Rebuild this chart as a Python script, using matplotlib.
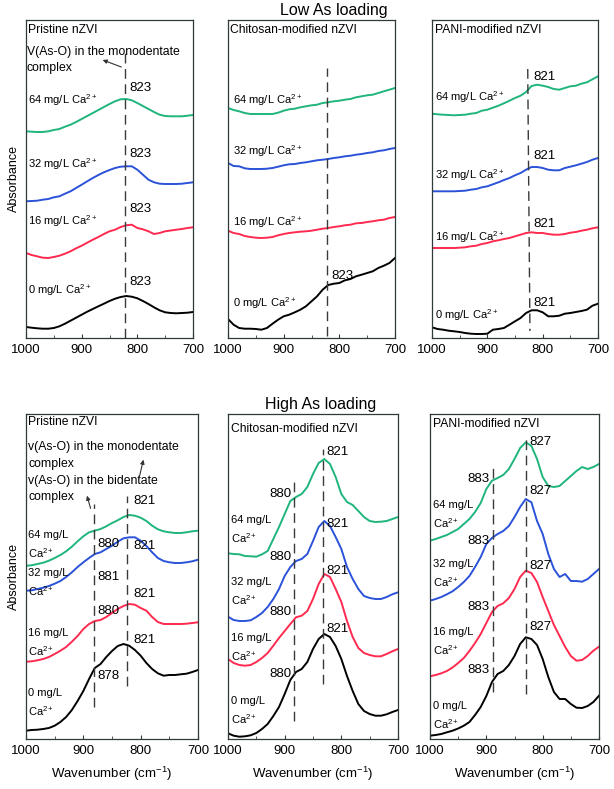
"""
FTIR spectra of As-loaded nZVI samples at different Ca2+ concentrations.
"""
import matplotlib
matplotlib.use('Agg')
import matplotlib.pyplot as plt
from matplotlib.ticker import MultipleLocator

plt.rcParams['font.family'] = ['Liberation Sans', 'DejaVu Sans']
plt.rcParams['mathtext.fontset'] = 'custom'
plt.rcParams['mathtext.rm'] = 'Liberation Sans'
plt.rcParams['mathtext.it'] = 'Liberation Sans:italic'

# wavenumber grid (cm-1)
wn = [1000, 990, 980, 970, 960, 950, 940, 930, 920, 910, 900, 890, 880, 870, 860, 850,
      840, 830, 820, 810, 800, 790, 780, 770, 760, 750, 740, 730, 720, 710, 700]

ca_levels = ['0', '16', '32', '64']

# ---- low As loading (absorbance, arbitrary offset units) ----
low_pristine_0 = [11, 10.3, 9.7, 9.3, 9.3, 10, 11.7, 14.3, 17.3, 20.3, 23.3, 26.3, 29, 31.7, 34.3, 37,
                  39.3, 41, 42, 41.3, 39.7, 37, 34, 30.7, 27.7, 25.7, 25, 24.7, 25, 25.3, 26]
low_pristine_16 = [85, 83, 81.7, 80.3, 80, 81, 82.3, 84.3, 86.7, 89.7, 92.3, 95.3, 98.3, 101, 104, 106.7,
                   108.3, 111, 112.7, 113.3, 110, 108.7, 106.7, 104, 105, 106.7, 107.5, 108.3, 109, 110, 110.7]
low_pristine_32 = [136.7, 137, 137.3, 138.3, 139, 140.7, 141.7, 144.3, 146.7, 150, 153.3, 156.7, 160, 163, 165.7, 168,
                   170, 171.3, 171.7, 171.7, 168.3, 163.3, 158.3, 155.7, 154.3, 154, 154, 154, 154.3, 155, 155.7]
low_pristine_64 = [206.7, 206.3, 206, 206, 206.7, 208, 209, 211.3, 213.3, 216, 219, 222, 225, 228, 231, 234,
                   236.7, 238.7, 239, 237.7, 235, 232, 229, 226, 223.3, 222, 221.7, 221.7, 221.7, 222.3, 223]

low_chitosan_0 = [19, 13.3, 10, 9.3, 9.3, 9, 8.3, 10, 14.3, 18.3, 21.7, 23.3, 25.7, 28.3, 31.7, 36.7,
                  41.7, 48.3, 53, 54.3, 55, 57.7, 59, 61.7, 63.3, 65, 66.7, 70, 72.3, 75, 80]
low_chitosan_16 = [107.3, 105, 104, 102, 101, 100.3, 100, 100.3, 101, 102.7, 104, 105, 105.7, 106.3, 106.7, 107.3,
                   108.3, 109.3, 110, 111, 111.7, 112.7, 113.3, 114.7, 115, 116, 116.7, 117.7, 118.3, 120, 121]
low_chitosan_32 = [175, 172, 171.7, 169.7, 169, 169, 169, 169.3, 170, 171.3, 172.7, 173.7, 174, 175, 175.7, 176.7,
                   177.7, 178.3, 179, 180, 180.7, 181.7, 182.3, 183.3, 184, 185, 185.7, 187, 187.7, 189, 190]
low_chitosan_64 = [230, 228, 226.7, 225, 224, 224, 224, 224, 224, 225.3, 227.3, 228.7, 229.3, 230.7, 231.7, 232.7,
                   233.3, 235, 235.7, 236.7, 237.3, 238.3, 239, 240.7, 241.7, 242.7, 243.3, 245, 246.7, 248.3, 250]

low_pani_0 = [10.7, 9, 8.3, 7.3, 6.7, 6, 5, 4.3, 4, 4, 4.3, 8.3, 9, 10, 13.3, 16.7,
              20, 25, 27.7, 27.7, 25.7, 21.7, 21.7, 22.3, 24.3, 25, 26, 27, 28.3, 32.3, 34.3]
low_pani_16 = [90, 90, 90, 90, 90, 90.3, 90.7, 91.7, 92.3, 94, 95, 96.7, 97.7, 99, 100, 101.7,
               103.3, 105, 105.7, 105, 105, 104, 103.3, 103.3, 104, 105.3, 106, 107.3, 108.3, 109.7, 110.7]
low_pani_32 = [146.7, 146.7, 146.7, 146.7, 146.7, 147, 147.3, 148.3, 149, 150.7, 151.7, 153.7, 155.7, 158, 160, 162.7,
               165, 168.3, 171, 171, 170, 168.3, 167.7, 167.7, 170, 171.3, 172.7, 174.3, 176, 178.3, 180]
low_pani_64 = [224.3, 223.7, 223.3, 223, 222.7, 223, 223.3, 224.3, 225, 227.3, 228.3, 230.3, 232.3, 234.7, 237.3, 240,
               242.3, 246, 252, 253.3, 252.3, 251, 249, 248.3, 250, 251.7, 252.3, 254.3, 255.7, 258.7, 261.7]

# ---- high As loading ----
high_pristine_0 = [8.3, 9, 9.3, 10, 11, 13.3, 17, 22, 29, 38, 48, 60, 71, 75, 82, 88,
                   93, 95, 93.3, 89, 83.3, 76, 70, 65.7, 63.3, 64, 64, 64.7, 65.3, 67, 69]
high_pristine_16 = [77.3, 77.7, 78.7, 80, 82, 85, 88.3, 92, 97.3, 103, 110, 115, 118, 119, 122, 126,
                    130, 133, 135, 134.3, 131, 128.3, 122, 117, 115, 115, 115, 115, 115.3, 116, 116.7]
high_pristine_32 = [148.3, 148.7, 150, 151.3, 153, 155.3, 158, 162, 166.7, 172, 176.7, 181, 185, 186.7, 190, 193.3,
                    197.3, 200.7, 201.7, 201.7, 198.3, 193, 186.7, 181, 178, 176.7, 176, 176, 176.7, 177.7, 179.3]
high_pristine_64 = [173.3, 173.7, 175, 176.3, 178.3, 181, 184, 187.7, 192.3, 197.7, 202.7, 206.7, 208.3, 210, 212.7, 216,
                    218.7, 222, 224, 223.3, 221.3, 218, 213.3, 209.7, 207.7, 206.7, 206, 206, 206.7, 207.7, 208.3]

high_chitosan_0 = [5.7, 3.3, 2.3, 2.7, 3.7, 6, 10, 15, 23, 32, 45, 59, 67, 70, 77, 90,
                   100, 105, 102, 93, 80, 63, 48, 35, 28, 25, 23.3, 23.3, 24.7, 27, 29]
high_chitosan_16 = [80, 76, 74, 73.3, 74, 77, 81, 86, 93.3, 101, 108, 115, 121.7, 123.3, 128, 140,
                    155, 165, 162, 150, 137, 118, 102, 91, 86, 84, 82.7, 82.7, 85, 87.7, 90]
high_chitosan_32 = [122.3, 119, 118, 118, 118.7, 122, 126, 132, 140, 150, 163, 172, 178, 180, 185, 198,
                    212, 218, 213, 202, 190, 172, 160, 150, 143, 141, 140, 140, 142, 144.7, 146.7]
high_chitosan_64 = [185.7, 185, 184.7, 183, 182.7, 182.3, 184.7, 188, 200, 212, 225, 238, 242, 245, 252, 265,
                    276, 280, 275, 262, 245, 237, 234, 228, 222, 218, 217, 217.3, 218, 220, 222]

high_pani_0 = [3.3, 4, 5, 6.7, 8.3, 10.5, 13.3, 17, 24, 32, 43, 57, 65, 68, 74, 83,
               95, 101.7, 100, 94, 80, 62, 47, 40, 40, 35, 31.3, 31, 33, 37, 43.3]
high_pani_16 = [62.7, 64, 65.7, 68, 71.5, 76, 81, 88, 96, 105, 116, 127, 133, 135.7, 141, 150,
                162, 168.3, 166, 157, 142, 128, 114, 103, 92, 83, 78.3, 79, 83, 88.3, 92.3]
high_pani_32 = [138.3, 140, 142, 144.7, 147.7, 152, 157, 163, 172, 182, 195, 201, 205, 208, 213, 222,
                232, 240, 236.7, 218, 205, 185, 170, 162, 165, 158, 158, 157.3, 160, 165, 170]
high_pani_64 = [198.3, 200, 202, 204, 207, 210, 215, 220, 227, 236, 250, 258.3, 261, 264, 270, 280,
                291, 296.7, 293, 280, 262, 253, 252, 253, 258, 263, 268, 272, 270, 272, 275]

colors = ['#000000', '#ff2a4f', '#2b52d8', '#1fb57c']
dash_color = '#3a3a3a'
frame_color = '#2f3b3b'


def setup_axes(ax, ytop, xlabel=False, ylabel=False):
    ax.set_xlim(1000, 700)
    ax.set_ylim(0, ytop)
    ax.set_yticks([])
    ax.xaxis.set_major_locator(MultipleLocator(100))
    ax.xaxis.set_minor_locator(MultipleLocator(50))
    ax.tick_params(axis='x', which='both', direction='in', colors=frame_color,
                   labelcolor='black', labelsize=9.5, pad=4)
    ax.tick_params(axis='x', which='major', length=3)
    ax.tick_params(axis='x', which='minor', length=2)
    for sp in ax.spines.values():
        sp.set_color(frame_color)
        sp.set_linewidth(0.9)
    if xlabel:
        ax.set_xlabel('Wavenumber (cm$^{-1}$)', fontsize=9.5, labelpad=6)
    if ylabel:
        ax.set_ylabel('Absorbance', fontsize=9, labelpad=4)


def draw_curves(ax, series):
    for ys, c in zip(series, colors):
        ax.plot(wn, ys, color=c, lw=1.4)


def vdash(ax, x, y0, y1):
    ax.plot([x, x], [y0, y1], color=dash_color, lw=1.0, ls=(0, (7, 4)))


def arrow(ax, tip, tail):
    ax.annotate('', xy=tip, xytext=tail,
                arrowprops=dict(arrowstyle='-|>', color='#333333', lw=0.8, mutation_scale=6))


fig = plt.figure(figsize=(6.14, 7.89), dpi=100)
W, H = 614.0, 789.0


def add_ax(x0, y0, x1, y1):
    return fig.add_axes([x0 / W, 1 - y1 / H, (x1 - x0) / W, (y1 - y0) / H])


ax1 = add_ax(26, 20, 193, 338)
ax2 = add_ax(228, 20, 395, 338)
ax3 = add_ax(432, 20, 598, 338)
ax4 = add_ax(26, 414, 198, 739)
ax5 = add_ax(228, 414, 398, 739)
ax6 = add_ax(430, 414, 599, 739)

fs_head = 8.7
fs_txt = 8
fs_note = 8.8
fs_lab = 9.5

# ---------------- Low As: pristine ----------------
setup_axes(ax1, 318, ylabel=True)
draw_curves(ax1, [low_pristine_0, low_pristine_16, low_pristine_32, low_pristine_64])
vdash(ax1, 822, 0, 285)
ax1.text(997, 308, 'Pristine nZVI', fontsize=fs_head, va='center')
ax1.text(999, 286, 'V(As-O) in the monodentate', fontsize=fs_note, va='center')
ax1.text(999, 270, 'complex', fontsize=fs_note, va='center')
arrow(ax1, (867, 279), (824, 270))
for lvl, ly, py in zip(ca_levels, [48, 117, 174, 238], [56, 129, 184, 250]):
    ax1.text(996, ly, lvl + ' mg/L Ca$^{2+}$', fontsize=fs_txt, va='center')
    ax1.text(815, py, '823', fontsize=fs_lab, va='center')

# ---------------- Low As: chitosan ----------------
setup_axes(ax2, 318)
draw_curves(ax2, [low_chitosan_0, low_chitosan_16, low_chitosan_32, low_chitosan_64])
vdash(ax2, 822, 2, 270)
ax2.text(996, 308, 'Chitosan-modified nZVI', fontsize=fs_head, va='center')
for lvl, ly in zip(ca_levels, [35, 116, 187, 238]):
    ax2.text(991, ly, lvl + ' mg/L Ca$^{2+}$', fontsize=fs_txt, va='center')
ax2.text(815, 62, '823', fontsize=fs_lab, va='center')

# ---------------- Low As: PANI ----------------
setup_axes(ax3, 318)
draw_curves(ax3, [low_pani_0, low_pani_16, low_pani_32, low_pani_64])
ax3.plot([827, 823], [269, 7], color=dash_color, lw=1.0, ls=(0, (7, 4)))
ax3.text(995, 308, 'PANI-modified nZVI', fontsize=fs_head, va='center')
for lvl, ly, py in zip(ca_levels, [23, 101, 163, 241], [35, 114, 182, 261]):
    ax3.text(994, ly, lvl + ' mg/L Ca$^{2+}$', fontsize=fs_txt, va='center')
    ax3.text(816, py, '821', fontsize=fs_lab, va='center')

fig.text(334 / W, 1 - 10 / H, 'Low As loading', fontsize=11.5, ha='center', va='center')

# ---------------- High As: pristine ----------------
setup_axes(ax4, 325, xlabel=True, ylabel=True)
draw_curves(ax4, [high_pristine_0, high_pristine_16, high_pristine_32, high_pristine_64])
vdash(ax4, 881, 32, 235)
vdash(ax4, 823, 53, 243)
ax4.text(997, 317, 'Pristine nZVI', fontsize=fs_head, va='center')
ax4.text(996, 292, 'v(As-O) in the monodentate', fontsize=fs_note, va='center')
ax4.text(996, 275, 'complex', fontsize=fs_note, va='center')
ax4.text(996, 258, 'v(As-O) in the bidentate', fontsize=fs_note, va='center')
ax4.text(996, 242, 'complex', fontsize=fs_note, va='center')
arrow(ax4, (794, 282), (804, 258))
arrow(ax4, (895, 246), (886, 228))
for lvl, ly in zip(ca_levels, [36, 96, 156, 194]):
    ax4.text(996, ly, lvl + ' mg/L\nCa$^{2+}$', fontsize=fs_txt, va='center', linespacing=1.6)
for lbl, py in zip(['878', '880', '881', '880'], [63, 128, 162, 195]):
    ax4.text(876, py, lbl, fontsize=fs_lab, va='center')
for py in [99, 145, 193, 238]:
    ax4.text(813, py, '821', fontsize=fs_lab, va='center')

# ---------------- High As: chitosan ----------------
setup_axes(ax5, 325, xlabel=True)
draw_curves(ax5, [high_chitosan_0, high_chitosan_16, high_chitosan_32, high_chitosan_64])
vdash(ax5, 884, 18, 261)
vdash(ax5, 833, 55, 290)
ax5.text(994, 310, 'Chitosan-modified nZVI', fontsize=fs_head, va='center')
for lvl, ly in zip(ca_levels, [28, 91, 147, 209]):
    ax5.text(994, ly, lvl + ' mg/L\nCa$^{2+}$', fontsize=fs_txt, va='center', linespacing=1.6)
for py in [65, 127, 182, 245]:
    ax5.text(888, py, '880', fontsize=fs_lab, va='center', ha='right')
for py in [110, 168, 215, 287]:
    ax5.text(827, py, '821', fontsize=fs_lab, va='center')

# ---------------- High As: PANI ----------------
setup_axes(ax6, 325, xlabel=True)
draw_curves(ax6, [high_pani_0, high_pani_16, high_pani_32, high_pani_64])
vdash(ax6, 889, 47, 273)
vdash(ax6, 830, 45, 303)
ax6.text(995, 315, 'PANI-modified nZVI', fontsize=fs_head, va='center')
for lvl, ly in zip(ca_levels, [23, 97, 165, 224]):
    ax6.text(995, ly, lvl + ' mg/L\nCa$^{2+}$', fontsize=fs_txt, va='center', linespacing=1.6)
for py in [69, 132, 198, 260]:
    ax6.text(895, py, '883', fontsize=fs_lab, va='center', ha='right')
for py in [112, 173, 248, 297]:
    ax6.text(824, py, '827', fontsize=fs_lab, va='center')

fig.text(321 / W, 1 - 404 / H, 'High As loading', fontsize=11.5, ha='center', va='center')

fig.savefig('out.png', dpi=100)
